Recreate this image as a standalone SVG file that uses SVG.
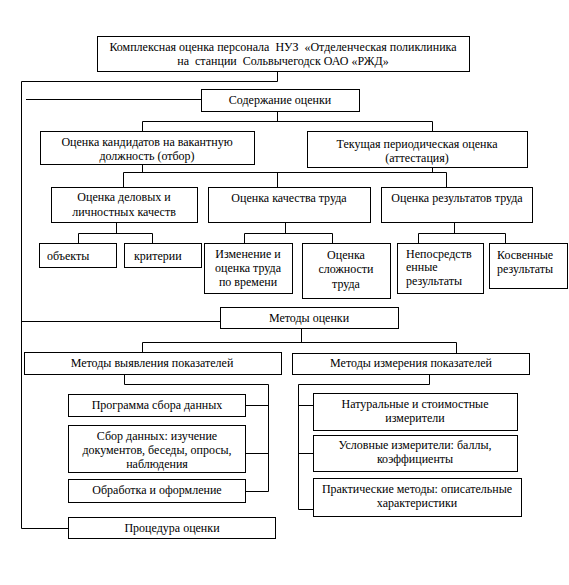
<svg xmlns="http://www.w3.org/2000/svg" width="569" height="585" viewBox="0 0 569 585" font-family="'Liberation Serif', 'DejaVu Serif', serif" font-size="12">
<style>
rect{fill:#fff;stroke:#000;stroke-width:1}
text{font-family:'Liberation Serif','Times New Roman','DejaVu Serif',serif;font-size:12px;fill:#000}
.c{text-anchor:middle}
#connectors path{fill:none;stroke:#000;stroke-width:1}
</style>
<rect x="0" y="0" width="569" height="585" style="stroke:none"/>
<g id="connectors">
<path d="M277.5 71 V81.5 H21.5 V528.5 H68"/>
<path d="M26 99.5 H201"/>
<path d="M21.5 321.5 H220"/>
<path d="M277.5 112 V121.5 M142.5 131 V121.5 H432.5 V131"/>
<path d="M142.5 164 V172.5 M432.5 167 V172.5 M123.5 187 V172.5 H446.5 V187 M277.5 172.5 V187"/>
<path d="M116.5 222 V233.5 M78.5 243 V233.5 H152.5 V243"/>
<path d="M285.5 222 V233.5 M244.5 243 V233.5 H332.5 V243"/>
<path d="M454.5 222 V233.5 M418.5 243 V233.5 H505.5 V243"/>
<path d="M301.5 328 V342.5 M142.5 352 V342.5 H456.5 V353"/>
<path d="M124.5 374 V384.5 H268.5 V491.5 M245 405.5 H268.5 M245 453.5 H268.5 M245 491.5 H268.5"/>
<path d="M429.5 374 V384.5 H298.5 V509.5 H313 M298.5 405.5 H313 M298.5 453.5 H313"/>
</g>
<g id="n-top"><rect x="97.5" y="36.5" width="372" height="35"/>
<text class="c" x="283" y="51" xml:space="preserve">Комплексная оценка персонала  НУЗ  «Отделенческая поликлиника</text>
<text class="c" x="283" y="65" xml:space="preserve">на  станции  Сольвычегодск ОАО «РЖД»</text></g>
<g id="n-content"><rect x="201.5" y="89.5" width="158" height="22"/>
<text class="c" x="280" y="104">Содержание оценки</text></g>
<g id="n-candidates"><rect x="40.5" y="131.5" width="214" height="33"/>
<text class="c" x="147" y="146">Оценка кандидатов на вакантную</text>
<text class="c" x="147" y="160">должность (отбор)</text></g>
<g id="n-current"><rect x="307.5" y="131.5" width="220" height="36"/>
<text class="c" x="417" y="148">Текущая периодическая оценка</text>
<text class="c" x="417" y="162">(аттестация)</text></g>
<g id="n-business"><rect x="51.5" y="187.5" width="146" height="35"/>
<text class="c" x="124" y="201">Оценка деловых и</text>
<text class="c" x="124" y="216">личностных качеств</text></g>
<g id="n-quality"><rect x="208.5" y="187.5" width="162" height="35"/>
<text class="c" x="289" y="202">Оценка качества труда</text></g>
<g id="n-results"><rect x="381.5" y="187.5" width="151" height="35"/>
<text class="c" x="457" y="202">Оценка результатов труда</text></g>
<g id="n-objects"><rect x="39.5" y="243.5" width="77" height="24"/>
<text x="47" y="260">объекты</text></g>
<g id="n-criteria"><rect x="124.5" y="243.5" width="77" height="24"/>
<text x="134" y="260">критерии</text></g>
<g id="n-time"><rect x="204.5" y="243.5" width="88" height="50"/>
<text class="c" x="248" y="258">Изменение и</text>
<text class="c" x="248" y="272">оценка труда</text>
<text class="c" x="248" y="286">по времени</text></g>
<g id="n-complexity"><rect x="302.5" y="243.5" width="88" height="55"/>
<text class="c" x="346" y="259">Оценка</text>
<text class="c" x="346" y="273">сложности</text>
<text class="c" x="346" y="288">труда</text></g>
<g id="n-direct"><rect x="397.5" y="243.5" width="86" height="50"/>
<text x="406" y="258">Непосредств</text>
<text x="406" y="271">енные</text>
<text x="406" y="285">результаты</text></g>
<g id="n-indirect"><rect x="489.5" y="243.5" width="78" height="45"/>
<text x="497" y="259">Косвенные</text>
<text x="497" y="273">результаты</text></g>
<g id="n-methods"><rect x="220.5" y="307.5" width="178" height="21"/>
<text class="c" x="309" y="322">Методы оценки</text></g>
<g id="n-identify"><rect x="24.5" y="352.5" width="257" height="22"/>
<text class="c" x="152" y="367">Методы выявления показателей</text></g>
<g id="n-measure"><rect x="292.5" y="353.5" width="237" height="21"/>
<text class="c" x="411" y="367">Методы измерения показателей</text></g>
<g id="n-program"><rect x="68.5" y="394.5" width="177" height="22"/>
<text class="c" x="157" y="409">Программа сбора данных</text></g>
<g id="n-collect"><rect x="68.5" y="425.5" width="177" height="47"/>
<text class="c" x="157" y="440">Сбор данных: изучение</text>
<text class="c" x="157" y="454">документов, беседы, опросы,</text>
<text class="c" x="157" y="468">наблюдения</text></g>
<g id="n-process"><rect x="68.5" y="479.5" width="177" height="23"/>
<text class="c" x="157" y="494">Обработка и оформление</text></g>
<g id="n-procedure"><rect x="68.5" y="517.5" width="207" height="21"/>
<text class="c" x="172" y="532">Процедура оценки</text></g>
<g id="n-natural"><rect x="313.5" y="393.5" width="204" height="37"/>
<text class="c" x="415" y="408">Натуральные и стоимостные</text>
<text class="c" x="415" y="422">измерители</text></g>
<g id="n-conditional"><rect x="313.5" y="435.5" width="204" height="36"/>
<text class="c" x="415" y="449">Условные измерители: баллы,</text>
<text class="c" x="415" y="463">коэффициенты</text></g>
<g id="n-practical"><rect x="313.5" y="478.5" width="208" height="38"/>
<text class="c" x="417" y="493">Практические методы: описательные</text>
<text class="c" x="417" y="507">характеристики</text></g>
</svg>
